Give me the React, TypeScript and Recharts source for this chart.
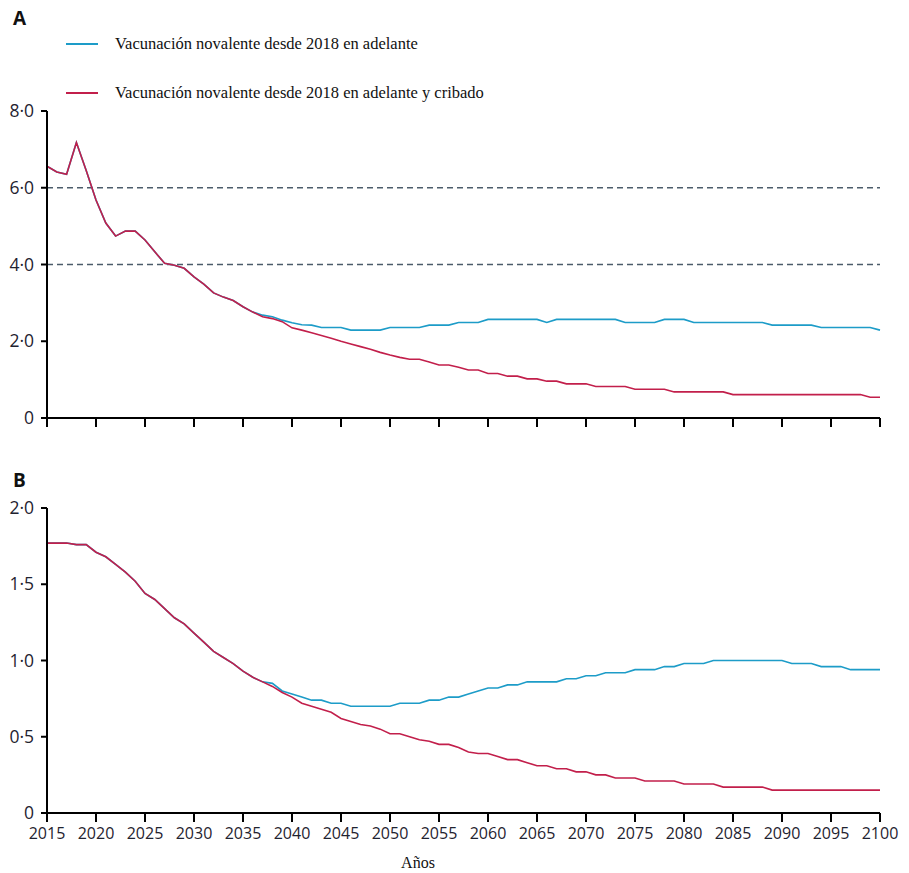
import { LineChart, Line, XAxis, YAxis, ReferenceLine } from "recharts";

// años 2015-2100
const years = Array.from({ length: 86 }, (_, i) => 2015 + i);
const xTicks = [2015, 2020, 2025, 2030, 2035, 2040, 2045, 2050, 2055, 2060, 2065, 2070, 2075, 2080, 2085, 2090, 2095, 2100];

const ticksA = [0, 2, 4, 6, 8];
const ticksB = [0, 0.5, 1, 1.5, 2];

const serieA1 = "Vacunación novalente desde 2018 en adelante";
const serieA2 = "Vacunación novalente desde 2018 en adelante y cribado";

// panel A
const vacunaA = [
  6.56, 6.41, 6.35, 7.18, 6.45, 5.68, 5.08, 4.74, 4.87, 4.87,
  4.64, 4.33, 4.03, 3.98, 3.9, 3.68, 3.49, 3.26, 3.15, 3.06,
  2.9, 2.76, 2.68, 2.64, 2.55, 2.48, 2.43, 2.42, 2.36, 2.36,
  2.36, 2.29, 2.29, 2.29, 2.29, 2.36, 2.36, 2.36, 2.36, 2.42,
  2.42, 2.42, 2.49, 2.49, 2.49, 2.57, 2.57, 2.57, 2.57, 2.57,
  2.57, 2.49, 2.57, 2.57, 2.57, 2.57, 2.57, 2.57, 2.57, 2.49,
  2.49, 2.49, 2.49, 2.57, 2.57, 2.57, 2.49, 2.49, 2.49, 2.49,
  2.49, 2.49, 2.49, 2.49, 2.42, 2.42, 2.42, 2.42, 2.42, 2.36,
  2.36, 2.36, 2.36, 2.36, 2.36, 2.29,
];
const cribadoA = [
  6.56, 6.41, 6.35, 7.18, 6.45, 5.68, 5.08, 4.74, 4.87, 4.87,
  4.64, 4.33, 4.03, 3.98, 3.9, 3.68, 3.49, 3.26, 3.15, 3.06,
  2.9, 2.76, 2.64, 2.59, 2.51, 2.35, 2.29, 2.22, 2.15, 2.08,
  2.0, 1.93, 1.86, 1.79, 1.71, 1.64, 1.58, 1.53, 1.53, 1.46,
  1.38, 1.38, 1.32, 1.25, 1.25, 1.16, 1.16, 1.09, 1.09, 1.02,
  1.02, 0.96, 0.96, 0.89, 0.89, 0.89, 0.82, 0.82, 0.82, 0.82,
  0.75, 0.75, 0.75, 0.75, 0.68, 0.68, 0.68, 0.68, 0.68, 0.68,
  0.61, 0.61, 0.61, 0.61, 0.61, 0.61, 0.61, 0.61, 0.61, 0.61,
  0.61, 0.61, 0.61, 0.61, 0.54, 0.54,
];

// panel B
const vacunaB = [
  1.77, 1.77, 1.77, 1.76, 1.76, 1.71, 1.68, 1.63, 1.58, 1.52,
  1.44, 1.4, 1.34, 1.28, 1.24, 1.18, 1.12, 1.06, 1.02, 0.98,
  0.93, 0.89, 0.86, 0.85, 0.8, 0.78, 0.76, 0.74, 0.74, 0.72,
  0.72, 0.7, 0.7, 0.7, 0.7, 0.7, 0.72, 0.72, 0.72, 0.74,
  0.74, 0.76, 0.76, 0.78, 0.8, 0.82, 0.82, 0.84, 0.84, 0.86,
  0.86, 0.86, 0.86, 0.88, 0.88, 0.9, 0.9, 0.92, 0.92, 0.92,
  0.94, 0.94, 0.94, 0.96, 0.96, 0.98, 0.98, 0.98, 1.0, 1.0,
  1.0, 1.0, 1.0, 1.0, 1.0, 1.0, 0.98, 0.98, 0.98, 0.96,
  0.96, 0.96, 0.94, 0.94, 0.94, 0.94,
];
const cribadoB = [
  1.77, 1.77, 1.77, 1.76, 1.76, 1.71, 1.68, 1.63, 1.58, 1.52,
  1.44, 1.4, 1.34, 1.28, 1.24, 1.18, 1.12, 1.06, 1.02, 0.98,
  0.93, 0.89, 0.86, 0.83, 0.79, 0.76, 0.72, 0.7, 0.68, 0.66,
  0.62, 0.6, 0.58, 0.57, 0.55, 0.52, 0.52, 0.5, 0.48, 0.47,
  0.45, 0.45, 0.43, 0.4, 0.39, 0.39, 0.37, 0.35, 0.35, 0.33,
  0.31, 0.31, 0.29, 0.29, 0.27, 0.27, 0.25, 0.25, 0.23, 0.23,
  0.23, 0.21, 0.21, 0.21, 0.21, 0.19, 0.19, 0.19, 0.19, 0.17,
  0.17, 0.17, 0.17, 0.17, 0.15, 0.15, 0.15, 0.15, 0.15, 0.15,
  0.15, 0.15, 0.15, 0.15, 0.15, 0.15,
];

const AZUL = "#1d9cc8";
const ROJO = "#c21f4b";

const dataA = years.map((y, i) => ({ year: y, vacuna: vacunaA[i], cribado: cribadoA[i] }));
const dataB = years.map((y, i) => ({ year: y, vacuna: vacunaB[i], cribado: cribadoB[i] }));

const fmt = (v: number) => (v === 0 ? "0" : v.toFixed(1).replace(".", "·"));

const yFont = { fontFamily: "'Open Sans', sans-serif", fontSize: 17.5, fill: "#1f2330" };
const xFont = { fontFamily: "'Open Sans', sans-serif", fontSize: 16, fill: "#1f2330" };
const axisLine = { stroke: "#000", strokeWidth: 2 };
const tickLine = { stroke: "#000", strokeWidth: 2 };

function LegendItem({ top, color, text }: { top: number; color: string; text: string }) {
  return (
    <div style={{ position: "absolute", left: 66, top: top - 10, height: 20, display: "flex", alignItems: "center" }}>
      <div style={{ width: 32, height: 2, background: color }} />
      <span style={{ marginLeft: 17, fontFamily: "'Liberation Serif', serif", fontSize: 16.5, color: "#111", whiteSpace: "nowrap" }}>{text}</span>
    </div>
  );
}

const panelLabel = {
  position: "absolute" as const,
  left: 13,
  fontFamily: "'Open Sans', sans-serif",
  fontWeight: 700,
  fontSize: 19,
  lineHeight: "17px",
  color: "#111",
};

export default function App() {
  return (
    <div style={{ position: "absolute", left: 0, top: 0, width: 909, height: 873, background: "#fff", overflow: "hidden" }}>
      <div style={{ ...panelLabel, top: 10 }}>A</div>
      <div style={{ ...panelLabel, top: 472 }}>B</div>

      <LegendItem top={44} color={AZUL} text={serieA1} />
      <LegendItem top={93} color={ROJO} text={serieA2} />

      <div style={{ position: "absolute", left: 0, top: 0 }}>
        <LineChart width={909} height={440} data={dataA} margin={{ top: 111, right: 29, bottom: 0, left: 0 }}>
          <XAxis
            dataKey="year"
            type="number"
            domain={[2015, 2100]}
            ticks={xTicks}
            tickFormatter={() => ""}
            height={22}
            tickSize={9}
            axisLine={axisLine}
            tickLine={tickLine}
          />
          <YAxis
            domain={[0, 8]}
            ticks={ticksA}
            tickFormatter={fmt}
            width={47}
            tickSize={6}
            tickMargin={7}
            tick={yFont}
            axisLine={axisLine}
            tickLine={tickLine}
          />
          <ReferenceLine y={6} stroke="#4b5c6a" strokeDasharray="6 4" strokeWidth={1.6} />
          <ReferenceLine y={4} stroke="#4b5c6a" strokeDasharray="6 4" strokeWidth={1.6} />
          <Line dataKey="vacuna" name={serieA1} stroke={AZUL} strokeWidth={1.6} dot={false} isAnimationActive={false} />
          <Line dataKey="cribado" name={serieA2} stroke={ROJO} strokeWidth={1.6} dot={false} isAnimationActive={false} />
        </LineChart>
      </div>

      <div style={{ position: "absolute", left: 0, top: 460 }}>
        <LineChart width={909} height={413} data={dataB} margin={{ top: 48, right: 29, bottom: 0, left: 0 }}>
          <XAxis
            dataKey="year"
            type="number"
            domain={[2015, 2100]}
            ticks={xTicks}
            height={60}
            tickSize={9}
            tickMargin={6}
            tick={xFont}
            axisLine={axisLine}
            tickLine={tickLine}
            interval={0}
          />
          <YAxis
            domain={[0, 2]}
            ticks={ticksB}
            tickFormatter={fmt}
            width={47}
            tickSize={6}
            tickMargin={7}
            tick={yFont}
            axisLine={axisLine}
            tickLine={tickLine}
          />
          <Line dataKey="vacuna" name={serieA1} stroke={AZUL} strokeWidth={1.6} dot={false} isAnimationActive={false} />
          <Line dataKey="cribado" name={serieA2} stroke={ROJO} strokeWidth={1.6} dot={false} isAnimationActive={false} />
        </LineChart>
      </div>

      <div style={{ position: "absolute", left: 0, width: 836, top: 854, textAlign: "center", fontFamily: "'Liberation Serif', serif", fontSize: 16, color: "#111" }}>
        Años
      </div>
    </div>
  );
}
